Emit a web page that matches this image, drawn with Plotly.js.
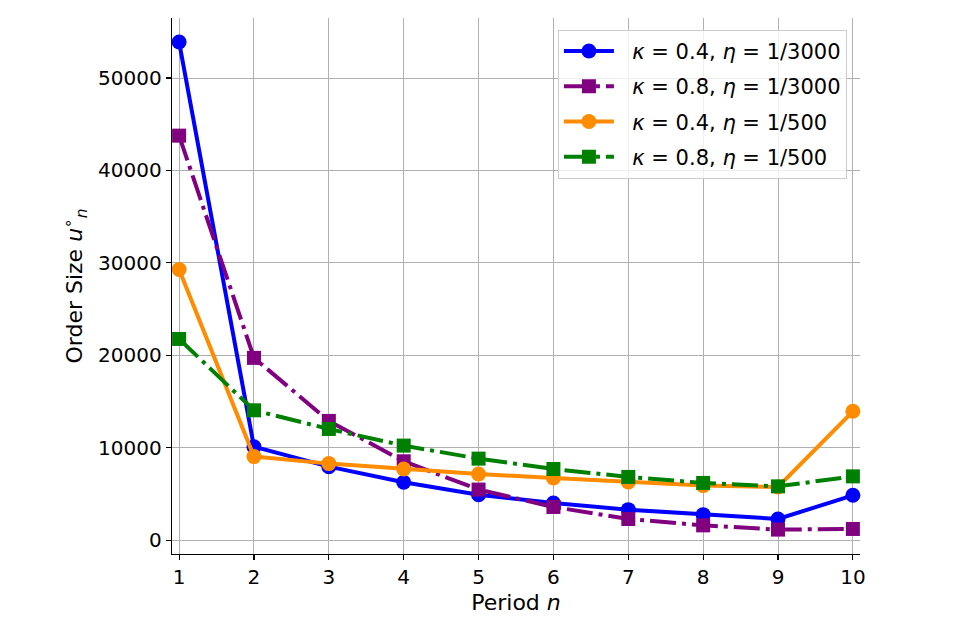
<!DOCTYPE html>
<html>
<head>
<meta charset="utf-8">
<script src="https://cdn.plot.ly/plotly-3.0.1.min.js"></script>
<style>
  html, body { margin: 0; padding: 0; background: #ffffff; }
  #chart { width: 969px; height: 634px; }
</style>
</head>
<body>
<div id="chart"></div>
<script>
// Periods on the x axis
const periods = [1, 2, 3, 4, 5, 6, 7, 8, 9, 10];

// Order sizes per parameter set
const kappa04Eta3000 = [53900, 10100, 7950, 6260, 4920, 4020, 3300, 2760, 2290, 4850];
const kappa08Eta3000 = [43770, 19720, 12900, 8530, 5470, 3590, 2290, 1600, 1140, 1210];
const kappa04Eta500 = [29280, 9040, 8280, 7700, 7160, 6730, 6300, 5900, 5760, 13940];
const kappa08Eta500 = [21770, 14050, 12030, 10230, 8820, 7700, 6840, 6190, 5820, 6900];

const seriesNames = [
    '<i>κ</i> = 0.4, <i>η</i> = 1/3000',
    '<i>κ</i> = 0.8, <i>η</i> = 1/3000',
    '<i>κ</i> = 0.4, <i>η</i> = 1/500',
    '<i>κ</i> = 0.8, <i>η</i> = 1/500'
];

const yTicks = [0, 10000, 20000, 30000, 40000, 50000];

// matplotlib-like dash-dot for a thick line
const dashDot = '26px,6px,4px,6px';

function makeTrace(values, name, color, symbol, dash) {
    return {
        x: periods,
        y: values,
        // a little padding between the legend sample and its text
        name: '&nbsp;&nbsp;' + name,
        legendgroup: name,
        mode: 'lines+markers',
        line: { color: color, width: 4, dash: dash },
        marker: { color: color, size: symbol === 'square' ? 14 : 15, symbol: symbol },
        cliponaxis: false
    };
}

const traces = [
    makeTrace(kappa04Eta3000, seriesNames[0], '#0000ff', 'circle', 'solid'),
    makeTrace(kappa08Eta3000, seriesNames[1], '#800080', 'square', dashDot),
    makeTrace(kappa04Eta500, seriesNames[2], '#ff8c00', 'circle', 'solid'),
    makeTrace(kappa08Eta500, seriesNames[3], '#008000', 'square', dashDot)
];

const axisFont = { family: 'DejaVu Sans', size: 20, color: '#000000' };

const layout = {
    width: 969,
    height: 634,
    paper_bgcolor: '#ffffff',
    plot_bgcolor: '#ffffff',
    font: { family: 'DejaVu Sans', color: '#000000' },
    margin: { l: 172, r: 109, t: 18, b: 80 },
    showlegend: true,
    xaxis: {
        range: [0.905, 10.095],
        tickvals: periods,
        tickfont: axisFont,
        ticks: 'outside',
        ticklen: 5,
        tickwidth: 1.2,
        tickcolor: '#000000',
        showline: true,
        linecolor: '#000000',
        linewidth: 1.3,
        mirror: false,
        showgrid: true,
        gridcolor: '#b0b0b0',
        gridwidth: 1,
        zeroline: false,
        title: { text: 'Period <i>n</i>', font: { family: 'DejaVu Sans', size: 22, color: '#000000' }, standoff: 6 }
    },
    yaxis: {
        range: [-1500, 56500],
        tickvals: yTicks,
        tickformat: 'd',
        tickfont: axisFont,
        ticks: 'outside',
        ticklen: 5,
        tickwidth: 1.2,
        tickcolor: '#000000',
        showline: true,
        linecolor: '#000000',
        linewidth: 1.3,
        mirror: false,
        showgrid: true,
        gridcolor: '#b0b0b0',
        gridwidth: 1,
        zeroline: false,
        title: { text: 'Order Size <i>u</i><sup>∘</sup><sub><i>n</i></sub>', font: { family: 'DejaVu Sans', size: 22, color: '#000000' }, standoff: 9 }
    },
    legend: {
        x: 0.981,
        y: 0.978,
        xanchor: 'right',
        yanchor: 'top',
        bgcolor: 'rgba(255,255,255,0.8)',
        bordercolor: '#cccccc',
        borderwidth: 1,
        font: { family: 'DejaVu Sans', size: 21, color: '#000000' },
        itemwidth: 50,
        tracegroupgap: 5
    }
};

Plotly.newPlot('chart', traces, layout, { displayModeBar: false, staticPlot: true });
</script>
</body>
</html>
